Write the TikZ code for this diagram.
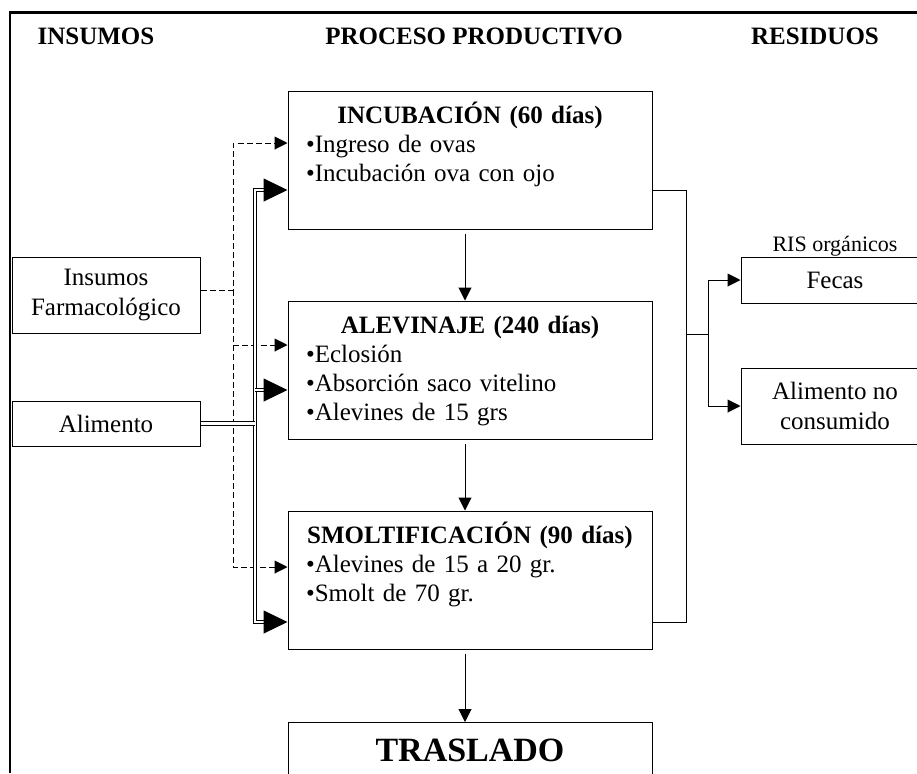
\documentclass[tikz,border=0pt]{standalone}
\usepackage{fontspec}
\setmainfont{Liberation Serif}
\usetikzlibrary{arrows.meta,positioning}

\begin{document}
\begin{tikzpicture}[x=0.5pt, y=-0.5pt, line width=0.5pt,
	>={Triangle[length=6.5pt,width=6.5pt]},
	font=\fontsize{12.5}{14.5}\selectfont]
	\tikzstyle{every node}=[inner sep=0pt]
	\tikzstyle{box}=[draw, shape=rectangle, minimum width=182pt, minimum height=69pt]
	\tikzstyle{side}=[draw, align=center, minimum width=94pt,
		font=\fontsize{12.5}{15}\selectfont]
	\tikzstyle{head}=[font=\fontsize{12.5}{14.5}\selectfont\bfseries]
	\tikzstyle{steps}=[align=left, text width=164pt]
	\tikzstyle{dbl}=[double, double distance=1.3pt, line width=0.5pt]
	\tikzstyle{dsh}=[dash pattern=on 3pt off 1.6pt]
	\tikzstyle{big}=[-{Triangle[length=12pt,width=11.5pt]}]
	\useasboundingbox (0,0) rectangle (917,773);
	% frame
	\draw[line width=1.35pt] (10,773) -- (10,12.5) -- (917,12.5);
	% % Nodes
	% column titles
	\node[head] (hins) at (96,36) {INSUMOS};
	\node[head] (hproc) at (474,36) {PROCESO PRODUCTIVO};
	\node[head] (hres) at (815,36) {RESIDUOS};
	% incubacion
	\node[box] (inc) at (470,160) {};
	\node[steps, below=4.5pt of inc.north] (inctext)
	{
		\makebox[\linewidth]{\rule{0pt}{11.5pt}\bfseries INCUBACIÓN (60 días)}\\
		•Ingreso de ovas\\
		•Incubación ova con ojo
	};
	% alevinaje
	\node[box] (alev) at (470,370) {};
	\node[steps, below=4.5pt of alev.north] (alevtext)
	{
		\makebox[\linewidth]{\rule{0pt}{11.5pt}\bfseries ALEVINAJE (240 días)}\\
		•Eclosión\\
		•Absorción saco vitelino\\
		•Alevines de 15 grs
	};
	% smoltificacion
	\node[box] (smolt) at (470,580) {};
	\node[steps, below=4.5pt of smolt.north] (smolttext)
	{
		\makebox[\linewidth]{\rule{0pt}{11.5pt}\bfseries SMOLTIFICACIÓN (90 días)}\\
		•Alevines de 15 a 20 gr.\\
		•Smolt de 70 gr.
	};
	% traslado
	\node[box, anchor=north, minimum height=60pt] (tras) at (470,722) {};
	\node[below=8pt of tras.north, font=\fontsize{17}{20}\selectfont\bfseries]
	(trastext) {TRASLADO};
	% insumos
	\node[side, minimum height=38pt] (farm) at (106,295) {Insumos\\Farmacológico};
	\node[side, minimum height=22.5pt] (alim) at (106,423.5) {Alimento};
	% residuos
	\node[side, minimum height=23pt] (fecas) at (835,280)
	[label={[font=\fontsize{11}{13}\selectfont]above:RIS orgánicos}]
	{Fecas};
	\node[side, minimum height=38pt] (alimnc) at (835,406) {Alimento no\\consumido};
	% bus points
	\coordinate (d1) at (233,143);
	\coordinate (d2) at (233,345);
	\coordinate (d3) at (233,567);
	\coordinate (b1) at (255,190);
	\coordinate (b2) at (255,390);
	\coordinate (b3) at (255,622);
	\coordinate (r1) at (686,190);
	\coordinate (r2) at (686,622);
	\coordinate (rj) at (686,334);
	\coordinate (rk) at (708,334);
	% % Connectors
	% process
	\draw [->, shorten <=2pt] ([xshift=-2.5pt]inc.south) -- ([xshift=-2.5pt]alev.north);
	\draw [->, shorten <=2pt] ([xshift=-2.5pt]alev.south) -- ([xshift=-2.5pt]smolt.north);
	\draw [->, shorten <=2pt] ([xshift=-2.5pt]smolt.south) -- ([xshift=-2.5pt]tras.north);
	% farmacologico
	\draw [dsh, ->] ([yshift=2.5pt]farm.east) -| (d1) -- (d1 -| inc.west);
	\draw [dsh, ->] ([yshift=2.5pt]farm.east -| d1) |- (d3 -| smolt.west);
	\draw [dsh, ->] (d2) -- (d2 -| alev.west);
	% alimento
	\draw [dbl, big] (b2) |- (b1 -| inc.west);
	\draw [dbl, big] (b2) |- (b3 -| smolt.west);
	\draw [dbl, big] (b2) -- (b2 -| alev.west);
	\draw [dbl] (alim.east) -- (alim.east -| b2);
	% residuos
	\draw (inc.east |- r1) -| (r2) -- (smolt.east |- r2);
	\draw (rj) -- (rk);
	\draw [->] (rk) |- (fecas.west);
	\draw [->] (rk) |- (alimnc.west);
\end{tikzpicture}
\end{document}
